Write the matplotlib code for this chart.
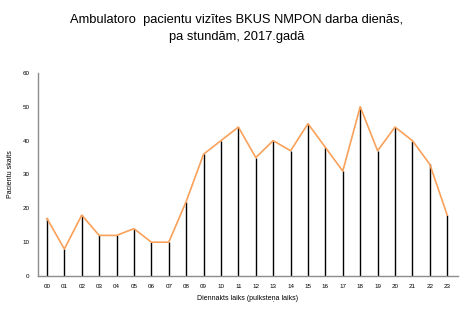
import matplotlib.pyplot as plt
import numpy as np

# hour of day and number of outpatient visits
hours = ['00', '01', '02', '03', '04', '05', '06', '07', '08', '09', '10', '11',
         '12', '13', '14', '15', '16', '17', '18', '19', '20', '21', '22', '23']
visits = [17, 8, 18, 12, 12, 14, 10, 10, 22, 36, 40, 44,
          35, 40, 37, 45, 38, 31, 50, 37, 44, 40, 33, 18]

plt.rcParams['font.family'] = ['Liberation Sans', 'DejaVu Sans']

fig = plt.figure(figsize=(4.68, 3.24), dpi=100)
ax = fig.add_axes([0.081, 0.148, 0.898, 0.627])

x = np.arange(len(hours))
ax.vlines(x, 0, visits, color='black', linewidth=1.0)
ax.plot(x, visits, color='#F9A15A', linewidth=1.2)

ax.set_xlim(-0.52, 23.63)
ax.set_ylim(0, 60)
ax.set_xticks(x)
ax.set_xticklabels(hours)
ax.set_yticks(np.arange(0, 61, 10))
ax.tick_params(axis='both', length=0, labelsize=4.5, pad=6)

for side in ['top', 'right']:
    ax.spines[side].set_visible(False)
for side in ['left', 'bottom']:
    ax.spines[side].set_color('#8c8c8c')
    ax.spines[side].set_linewidth(1.0)

ax.set_xlabel('Diennakts laiks (pulksteņa laiks)', fontsize=5, labelpad=4)
ax.set_ylabel('Pacientu skaits', fontsize=5, labelpad=6)

fig.text(0.505, 0.912, 'Ambulatoro  pacientu vizītes BKUS NMPON darba dienās,\npa stundām, 2017.gadā',
         ha='center', va='center', fontsize=9.3, linespacing=1.45)

fig.savefig('out.png', dpi=100)
